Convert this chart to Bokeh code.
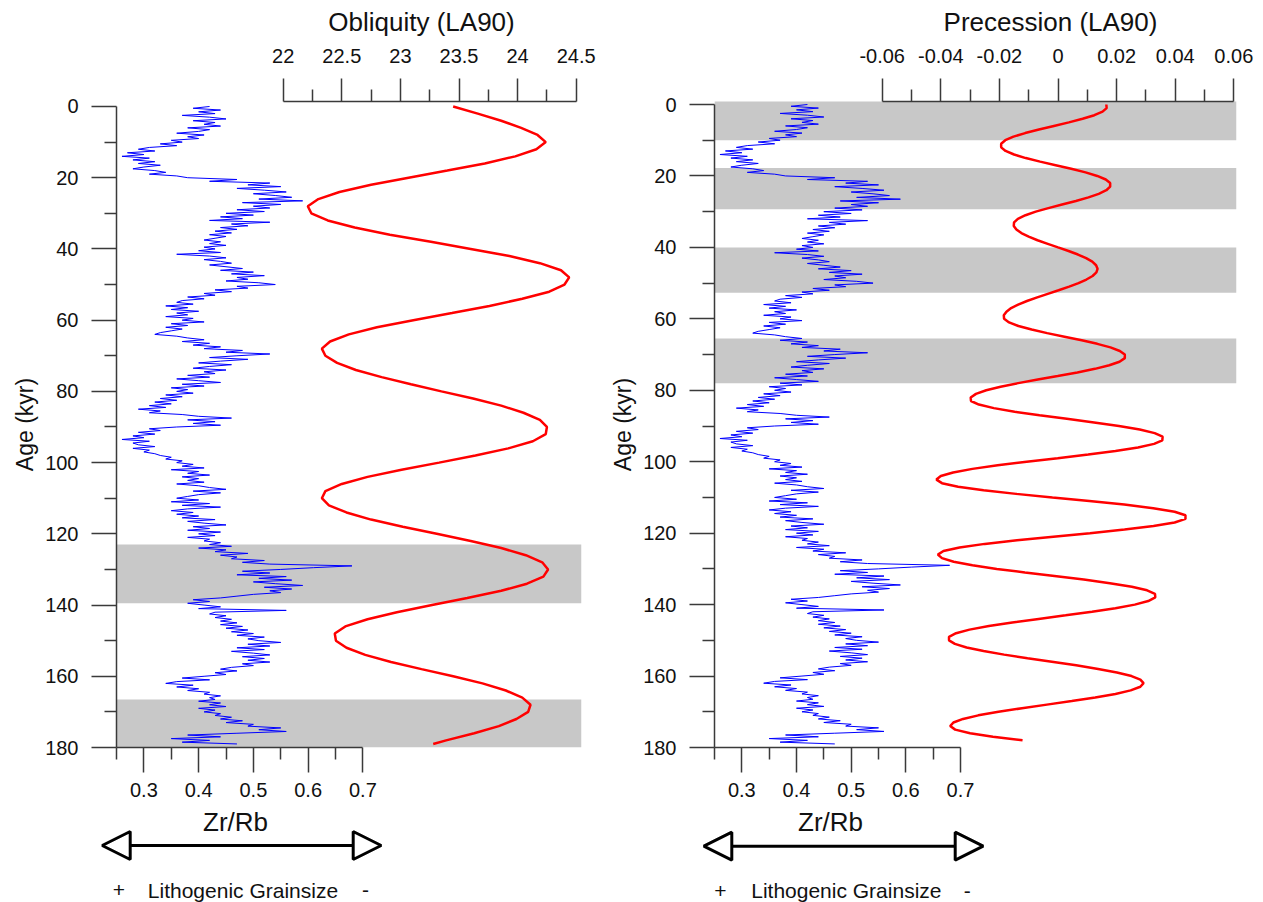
import numpy as np
from bokeh.plotting import figure
from bokeh.models import Range1d, LinearAxis, FixedTicker, Arrow, NormalHead, Label
from bokeh.layouts import row, column
from bokeh.embed import file_html
from bokeh.resources import INLINE

FONT = "Liberation Sans"
AX_COL = "#3a3a3a"
TXT = "#111111"
BAND = "#C8C8C8"

# ---------------- data ----------------
# Zr/Rb record, one value every 0.5 kyr from 0 to 179 kyr
zr_rb = [
    0.42, 0.39, 0.44, 0.40, 0.43, 0.37, 0.42, 0.45, 0.39, 0.43,
    0.41, 0.44, 0.38, 0.42, 0.40, 0.36, 0.41, 0.38, 0.40, 0.35,
    0.37, 0.33, 0.36, 0.31, 0.29, 0.32, 0.27, 0.30, 0.26, 0.31,
    0.28, 0.32, 0.29, 0.33, 0.30, 0.28, 0.32, 0.34, 0.31, 0.36,
    0.38, 0.47, 0.42, 0.53, 0.49, 0.55, 0.47, 0.52, 0.56, 0.50,
    0.54, 0.57, 0.51, 0.59, 0.48, 0.55, 0.50, 0.53, 0.47, 0.52,
    0.45, 0.50, 0.44, 0.48, 0.42, 0.53, 0.46, 0.49, 0.44, 0.47,
    0.43, 0.46, 0.42, 0.45, 0.43, 0.41, 0.44, 0.42, 0.45, 0.41,
    0.43, 0.40, 0.44, 0.36, 0.42, 0.45, 0.41, 0.44, 0.46, 0.42,
    0.45, 0.48, 0.44, 0.50, 0.46, 0.52, 0.47, 0.49, 0.45, 0.51,
    0.54, 0.47, 0.49, 0.43, 0.46, 0.41, 0.43, 0.38, 0.41, 0.37,
    0.36, 0.39, 0.34, 0.38, 0.35, 0.40, 0.36, 0.38, 0.34, 0.39,
    0.37, 0.41, 0.35, 0.38, 0.34, 0.37, 0.35, 0.33, 0.32, 0.36,
    0.38, 0.41, 0.37, 0.42, 0.39, 0.44, 0.41, 0.48, 0.45, 0.53,
    0.47, 0.42, 0.49, 0.44, 0.40, 0.46, 0.42, 0.39, 0.45, 0.41,
    0.43, 0.38, 0.42, 0.36, 0.40, 0.44, 0.37, 0.41, 0.35, 0.38,
    0.36, 0.39, 0.34, 0.37, 0.33, 0.36, 0.32, 0.35, 0.31, 0.34,
    0.29, 0.33, 0.31, 0.37, 0.40, 0.46, 0.38, 0.43, 0.39, 0.44,
    0.36, 0.31, 0.33, 0.29, 0.32, 0.28, 0.30, 0.26, 0.31, 0.28,
    0.29, 0.32, 0.28, 0.31, 0.30, 0.32, 0.33, 0.35, 0.34, 0.37,
    0.36, 0.39, 0.37, 0.41, 0.35, 0.40, 0.38, 0.42, 0.37, 0.40,
    0.38, 0.41, 0.36, 0.40, 0.42, 0.45, 0.39, 0.44, 0.40, 0.38,
    0.36, 0.40, 0.35, 0.42, 0.37, 0.44, 0.38, 0.35, 0.39, 0.36,
    0.40, 0.37, 0.43, 0.38, 0.41, 0.45, 0.39, 0.42, 0.38, 0.44,
    0.40, 0.43, 0.38, 0.42, 0.41, 0.44, 0.42, 0.46, 0.40, 0.45,
    0.43, 0.49, 0.44, 0.47, 0.46, 0.52, 0.48, 0.53, 0.68, 0.61,
    0.55, 0.48, 0.53, 0.47, 0.56, 0.51, 0.57, 0.50, 0.54, 0.59,
    0.52, 0.57, 0.53, 0.55, 0.50, 0.47, 0.44, 0.39, 0.42, 0.38,
    0.41, 0.44, 0.40, 0.56, 0.43, 0.42, 0.45, 0.43, 0.46, 0.44,
    0.47, 0.44, 0.48, 0.45, 0.49, 0.46, 0.50, 0.47, 0.52, 0.49,
    0.51, 0.55, 0.49, 0.53, 0.47, 0.52, 0.46, 0.50, 0.53, 0.48,
    0.52, 0.49, 0.53, 0.48, 0.50, 0.46, 0.44, 0.47, 0.43, 0.45,
    0.41, 0.37, 0.42, 0.36, 0.34, 0.39, 0.36, 0.40, 0.38, 0.42,
    0.41, 0.44, 0.42, 0.43, 0.40, 0.44, 0.42, 0.45, 0.40, 0.43,
    0.41, 0.44, 0.43, 0.46, 0.44, 0.48, 0.45, 0.50, 0.49, 0.55,
    0.51, 0.56, 0.47, 0.38, 0.44, 0.35, 0.42, 0.37, 0.47,
]
zr_age = np.arange(len(zr_rb)) * 0.5

# Obliquity (LA90), degrees, every 2 kyr (+ last point at 179 kyr)
obl_age = list(range(0, 179, 2)) + [179]
obliquity = [
    23.45, 23.66, 23.86, 24.03, 24.17, 24.24,
    24.16, 23.98, 23.72, 23.40, 23.07, 22.75, 22.48, 22.30, 22.21,
    22.24, 22.38, 22.61, 22.91, 23.26, 23.60, 23.93, 24.19, 24.37, 24.44,
    24.40, 24.27, 24.04, 23.76, 23.44, 23.11, 22.80, 22.56, 22.40, 22.33,
    22.36, 22.46, 22.62, 22.84, 23.09, 23.35, 23.62, 23.86, 24.05, 24.19, 24.25,
    24.24, 24.13, 23.92, 23.64, 23.33, 23.01, 22.72, 22.50, 22.36,
    22.33, 22.39, 22.54, 22.75, 23.02, 23.31, 23.60, 23.86, 24.07, 24.21, 24.26,
    24.22, 24.08, 23.86, 23.57, 23.27, 22.97, 22.72, 22.53, 22.44,
    22.45, 22.54, 22.70, 22.92, 23.18, 23.45, 23.70, 23.90, 24.04, 24.11,
    24.09, 23.99, 23.84, 23.63, 23.39, 23.28,
]

# Precession index (LA90), every 1 kyr from 0 to 178 kyr
prec_age = list(range(0, 179))
precession = [
    0.0165, 0.0166, 0.0152, 0.0124, 0.0084, 0.0037, -0.0014, -0.0065, -0.0112, -0.0152,
    -0.0180, -0.0194, -0.0194, -0.0179, -0.0150, -0.0110, -0.0061, -0.0008, 0.0045, 0.0094,
    0.0134, 0.0163, 0.0178, 0.0178, 0.0165, 0.0139, 0.0104, 0.0061, 0.0014, -0.0033,
    -0.0076, -0.0111, -0.0137, -0.0150, -0.0151, -0.0142, -0.0125, -0.0100, -0.0070, -0.0035,
    0.0000, 0.0036, 0.0068, 0.0096, 0.0117, 0.0130, 0.0135, 0.0131, 0.0118, 0.0097,
    0.0070, 0.0038, 0.0002, -0.0035, -0.0071, -0.0106, -0.0136, -0.0160, -0.0176, -0.0185,
    -0.0184, -0.0167, -0.0135, -0.0090, -0.0037, 0.0022, 0.0081, 0.0134, 0.0179, 0.0211,
    0.0228, 0.0228, 0.0210, 0.0175, 0.0126, 0.0066, -0.0001, -0.0069, -0.0136, -0.0196,
    -0.0245, -0.0280, -0.0298, -0.0297, -0.0270, -0.0219, -0.0148, -0.0063, 0.0030, 0.0123,
    0.0208, 0.0279, 0.0330, 0.0357, 0.0356, 0.0328, 0.0273, 0.0196, 0.0103, -0.0001,
    -0.0107, -0.0206, -0.0292, -0.0358, -0.0400, -0.0415, -0.0396, -0.0341, -0.0254, -0.0143,
    -0.0019, 0.0107, 0.0226, 0.0325, 0.0398, 0.0435, 0.0435, 0.0398, 0.0326, 0.0227,
    0.0109, -0.0016, -0.0140, -0.0250, -0.0336, -0.0391, -0.0410, -0.0396, -0.0356, -0.0292,
    -0.0209, -0.0113, -0.0012, 0.0088, 0.0177, 0.0252, 0.0304, 0.0331, 0.0332, 0.0308,
    0.0262, 0.0196, 0.0116, 0.0026, -0.0066, -0.0156, -0.0236, -0.0302, -0.0348, -0.0372,
    -0.0372, -0.0352, -0.0312, -0.0254, -0.0184, -0.0104, -0.0021, 0.0062, 0.0137, 0.0201,
    0.0251, 0.0281, 0.0292, 0.0281, 0.0248, 0.0196, 0.0127, 0.0047, -0.0038, -0.0123,
    -0.0203, -0.0272, -0.0324, -0.0357, -0.0368, -0.0351, -0.0300, -0.0222, -0.0121,
]

# shaded intervals (kyr)
obl_band_top = [123.0, 166.5]
obl_band_bottom = [139.5, 180.0]
prec_band_top = [-1.0, 17.8, 40.0, 65.5]
prec_band_bottom = [10.0, 29.3, 52.7, 78.0]

# ticks
age_ticks = [0, 20, 40, 60, 80, 100, 120, 140, 160, 180]
age_minor = [10, 30, 50, 70, 90, 110, 130, 150, 170]
age_labels = ["0", "20", "40", "60", "80", "100", "120", "140", "160", "180"]
zr_ticks = [0.3, 0.4, 0.5, 0.6, 0.7]
zr_minor = [0.25, 0.35, 0.45, 0.55, 0.65]
zr_labels = ["0.3", "0.4", "0.5", "0.6", "0.7"]
obl_ticks = [22, 22.5, 23, 23.5, 24, 24.5]
obl_minor = [22.25, 22.75, 23.25, 23.75, 24.25]
obl_labels = ["22", "22.5", "23", "23.5", "24", "24.5"]
prec_ticks = [-0.06, -0.04, -0.02, 0, 0.02, 0.04, 0.06]
prec_minor = [-0.05, -0.03, -0.01, 0.01, 0.03, 0.05]
prec_labels = ["-0.06", "-0.04", "-0.02", "0", "0.02", "0.04", "0.06"]

TITLE_H = 37
PANEL_BOTTOM = 806


def style(ax, ticks, minor, labels, bounds, t_out, m_out, standoff):
    ax.ticker = FixedTicker(ticks=ticks, minor_ticks=minor)
    ax.major_label_overrides = dict(zip(ticks, labels))
    ax.bounds = bounds
    ax.major_tick_in = 0
    ax.major_tick_out = t_out
    ax.minor_tick_in = 0
    ax.minor_tick_out = m_out
    ax.axis_line_color = AX_COL
    ax.axis_line_width = 1.5
    ax.major_tick_line_color = AX_COL
    ax.major_tick_line_width = 1.5
    ax.minor_tick_line_color = AX_COL
    ax.minor_tick_line_width = 1.5
    ax.major_label_text_font = FONT
    ax.major_label_text_font_size = "20px"
    ax.major_label_text_color = TXT
    ax.major_label_standoff = standoff
    ax.axis_label_text_font = FONT
    ax.axis_label_text_font_style = "normal"
    ax.axis_label_text_color = TXT


def make_panel(width, left, top, frame_w, frame_h, zr_end, y_top,
               orb_start, orb_end, orb_ticks, orb_minor, orb_labels,
               band_top, band_bottom, orb_age, orb_vals):
    height = PANEL_BOTTOM - TITLE_H
    top_b = top - TITLE_H
    bottom = height - top_b - frame_h
    p = figure(width=width, height=height, title=None,
               x_axis_type=None, y_axis_type=None,
               x_range=Range1d(0.25, zr_end), y_range=Range1d(180, y_top),
               output_backend="svg", toolbar_location=None,
               min_border_left=left, min_border_right=width - left - frame_w,
               min_border_top=top_b, min_border_bottom=bottom)
    p.outline_line_color = None
    p.background_fill_color = "white"
    p.border_fill_color = "white"
    p.extra_x_ranges = {"orb": Range1d(orb_start, orb_end)}

    p.quad(left=0.25, right=zr_end, top=band_top, bottom=band_bottom,
           fill_color=BAND, line_color=None)
    p.line(zr_rb, zr_age, line_color="#0000FF", line_width=1)
    p.line(orb_vals, orb_age, x_range_name="orb", line_color="#FF0000", line_width=2.5)

    ya = LinearAxis()
    style(ya, age_ticks, age_minor, age_labels, (0, 180), 25, 12, 13)
    ya.axis_label = "Age (kyr)"
    ya.axis_label_text_font_size = "23px"
    ya.axis_label_standoff = 4
    p.add_layout(ya, "left")

    xa = LinearAxis()
    style(xa, zr_ticks, zr_minor, zr_labels, (0.25, 0.7), 25, 12, 10)
    p.add_layout(xa, "below")

    ta = LinearAxis(x_range_name="orb")
    style(ta, orb_ticks, orb_minor, orb_labels, (orb_ticks[0], orb_ticks[-1]), 23, 12, 16)
    p.add_layout(ta, "above")
    return p


def strip(width, x0, y0, y1):
    # text strip; its data units equal page pixels
    s = figure(width=width, height=y1 - y0, title=None, x_axis_type=None, y_axis_type=None,
               x_range=Range1d(x0, x0 + width), y_range=Range1d(y1, y0),
               output_backend="svg", toolbar_location=None, min_border=0)
    s.outline_line_color = None
    s.background_fill_color = "white"
    s.border_fill_color = "white"
    return s


def label(fig, x, y, text, size, align="center"):
    fig.add_layout(Label(x=x, y=y, text=text, text_align=align, text_baseline="middle",
                         text_font=FONT, text_font_size=size, text_color=TXT))


def make_title(width, x0, tx, ty, text):
    t = strip(width, x0, 0, TITLE_H)
    label(t, tx, ty, text, "26px")
    return t


def make_arrow_fig(width, x0, zr_x, zr_y, a_x0, a_x1, a_y, plus_x, text_x, minus_x, text_y):
    a = strip(width, x0, PANEL_BOTTOM, 902)

    def head():
        return NormalHead(size=28, fill_color="white", line_color="black", line_width=3)

    a.add_layout(Arrow(start=head(), end=head(), x_start=a_x0, y_start=a_y,
                       x_end=a_x1, y_end=a_y, line_width=3, line_color="black"))
    label(a, zr_x, zr_y, "Zr/Rb", "26px")
    label(a, plus_x, text_y, "+", "21px")
    label(a, text_x, text_y, "Lithogenic Grainsize", "21px", "left")
    label(a, minus_x, text_y, "-", "21px")
    return a


t1 = make_title(600, 0, 421, 21, "Obliquity (LA90)")
t2 = make_title(663, 600, 1050, 21.5, "Precession (LA90)")

p1 = make_panel(600, 116, 101, 465, 647, 0.25 + 465 / 547.5, -1.4,
                20.578, 24.545, obl_ticks, obl_minor, obl_labels,
                obl_band_top, obl_band_bottom, obl_age, obliquity)
p2 = make_panel(663, 114, 99, 522, 648, 0.25 + 522 / 546.7, -0.84,
                -0.11724, 0.06092, prec_ticks, prec_minor, prec_labels,
                prec_band_top, prec_band_bottom, prec_age, precession)

a1 = make_arrow_fig(600, 0, 235, 821, 101.7, 380.7, 845, 118.3, 147.3, 365, 889.5)
a2 = make_arrow_fig(663, 600, 830, 821, 703.3, 982.7, 845.7, 720, 750.7, 966.7, 890.0)

layout = column(row(t1, t2), row(p1, p2), row(a1, a2))

open("out.html", "w").write(file_html(layout, INLINE))
